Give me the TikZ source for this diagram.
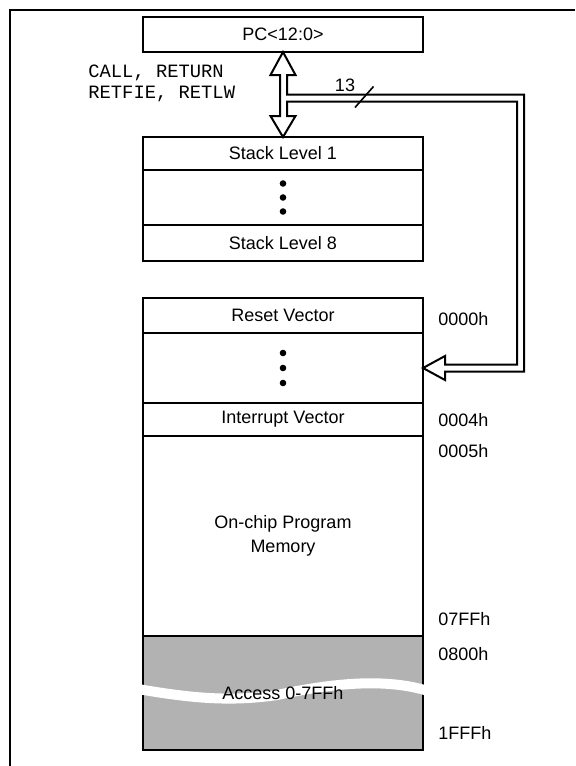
\documentclass[tikz,border=0pt]{standalone}
\usepackage{fontspec}
\setmainfont{Liberation Sans}
\setmonofont{Liberation Mono}
\usepackage{tikz}
\usetikzlibrary{positioning}
\tikzstyle{cell} = [rectangle, draw, line width=1pt, minimum width=140pt,
    inner sep=0pt, outer sep=0pt, align=center, font=\fontsize{9}{12}\selectfont]
\tikzstyle{addr} = [anchor=west, inner sep=0pt, font=\fontsize{9}{12}\selectfont]
\tikzstyle{mono} = [anchor=west, align=left, inner sep=0pt, font=\ttfamily\fontsize{9.4}{10.5}\selectfont]
\tikzstyle{bus} = [draw, line width=1pt, line join=miter]

\begin{document}
\begin{tikzpicture}[x=0.5pt,y=-0.5pt]
    \useasboundingbox (0,0) rectangle (575,766);
    \draw[line width=1.2pt] (10,766) -- (10,10) -- (575,10);

    % Place nodes
    \node[cell, minimum height=17.5pt] (pc) at (283,34.5) {PC<12:0>};
    \node[mono] (instr) at (88,83.5) {CALL, RETURN\\RETFIE, RETLW};

    \node[cell, minimum height=16.5pt] (stack1) at (283,153.5) {Stack Level 1};
    \node[cell, minimum height=27.5pt, below=0pt of stack1] (stackdots) {};
    \node[cell, minimum height=18pt, below=0pt of stackdots] (stack8) {Stack Level 8};

    \node[cell, minimum height=17.5pt] (reset) at (283,315.5) {Reset Vector};
    \node[cell, minimum height=35pt, below=0pt of reset] (memdots) {};
    \node[cell, minimum height=16.5pt, below=0pt of memdots] (intvec) {Interrupt Vector};
    \node[cell, minimum height=100pt, below=0pt of intvec] (onchip) {On-chip Program\\Memory};
    \node[cell, minimum height=57pt, fill=black!30, below=0pt of onchip] (access) {};

    \node[addr] (a0000) at (438,319) {0000h};
    \node[addr] (a0004) at (438,420) {0004h};
    \node[addr] (a0005) at (438,451.5) {0005h};
    \node[addr] (a07ff) at (438,619) {07FFh};
    \node[addr] (a0800) at (438,654) {0800h};
    \node[addr] (a1fff) at (438,733) {1FFFh};

    \foreach \d in {-14,0,14}
        \fill ([shift={(0,\d)}]stackdots.center) circle (3.3);
    \foreach \d in {-15,0,15}
        \fill ([shift={(0,\d)}]memdots.center) circle (3.3);

    % break in the gray block
    \draw[white, line width=5pt] (138,689) .. controls (190,698) and (230,702) .. (277,695)
        .. controls (320,686) and (380,676) .. (428,691);
    \node[font=\fontsize{9}{12}\selectfont] (accesslbl) at (access.center) {Access 0-7FFh};

    % Draw edges
    \path[bus] (pc.south) -- ++(12.5,23) -- ++(-8.5,0) -- ++(0,19.5) -- ++(237,0)
        -- ++(0,277) -- ++(-79,0) -- ++(0,8.5) -- (memdots.east) -- ++(22,-12)
        -- ++(0,8.5) -- ++(72,0) -- ++(0,-263) -- ++(-230,0) -- ++(0,14.5)
        -- ++(8.5,0) -- (stack1.north) -- ++(-12.5,-21) -- ++(9.5,0) -- ++(0,-41)
        -- ++(-9.5,0) -- cycle;
    \draw[line width=0.8pt] (355,107.5) -- (373.5,86.5);
    \node[font=\fontsize{9}{12}\selectfont] (width) at (345,85) {13};
\end{tikzpicture}
\end{document}
